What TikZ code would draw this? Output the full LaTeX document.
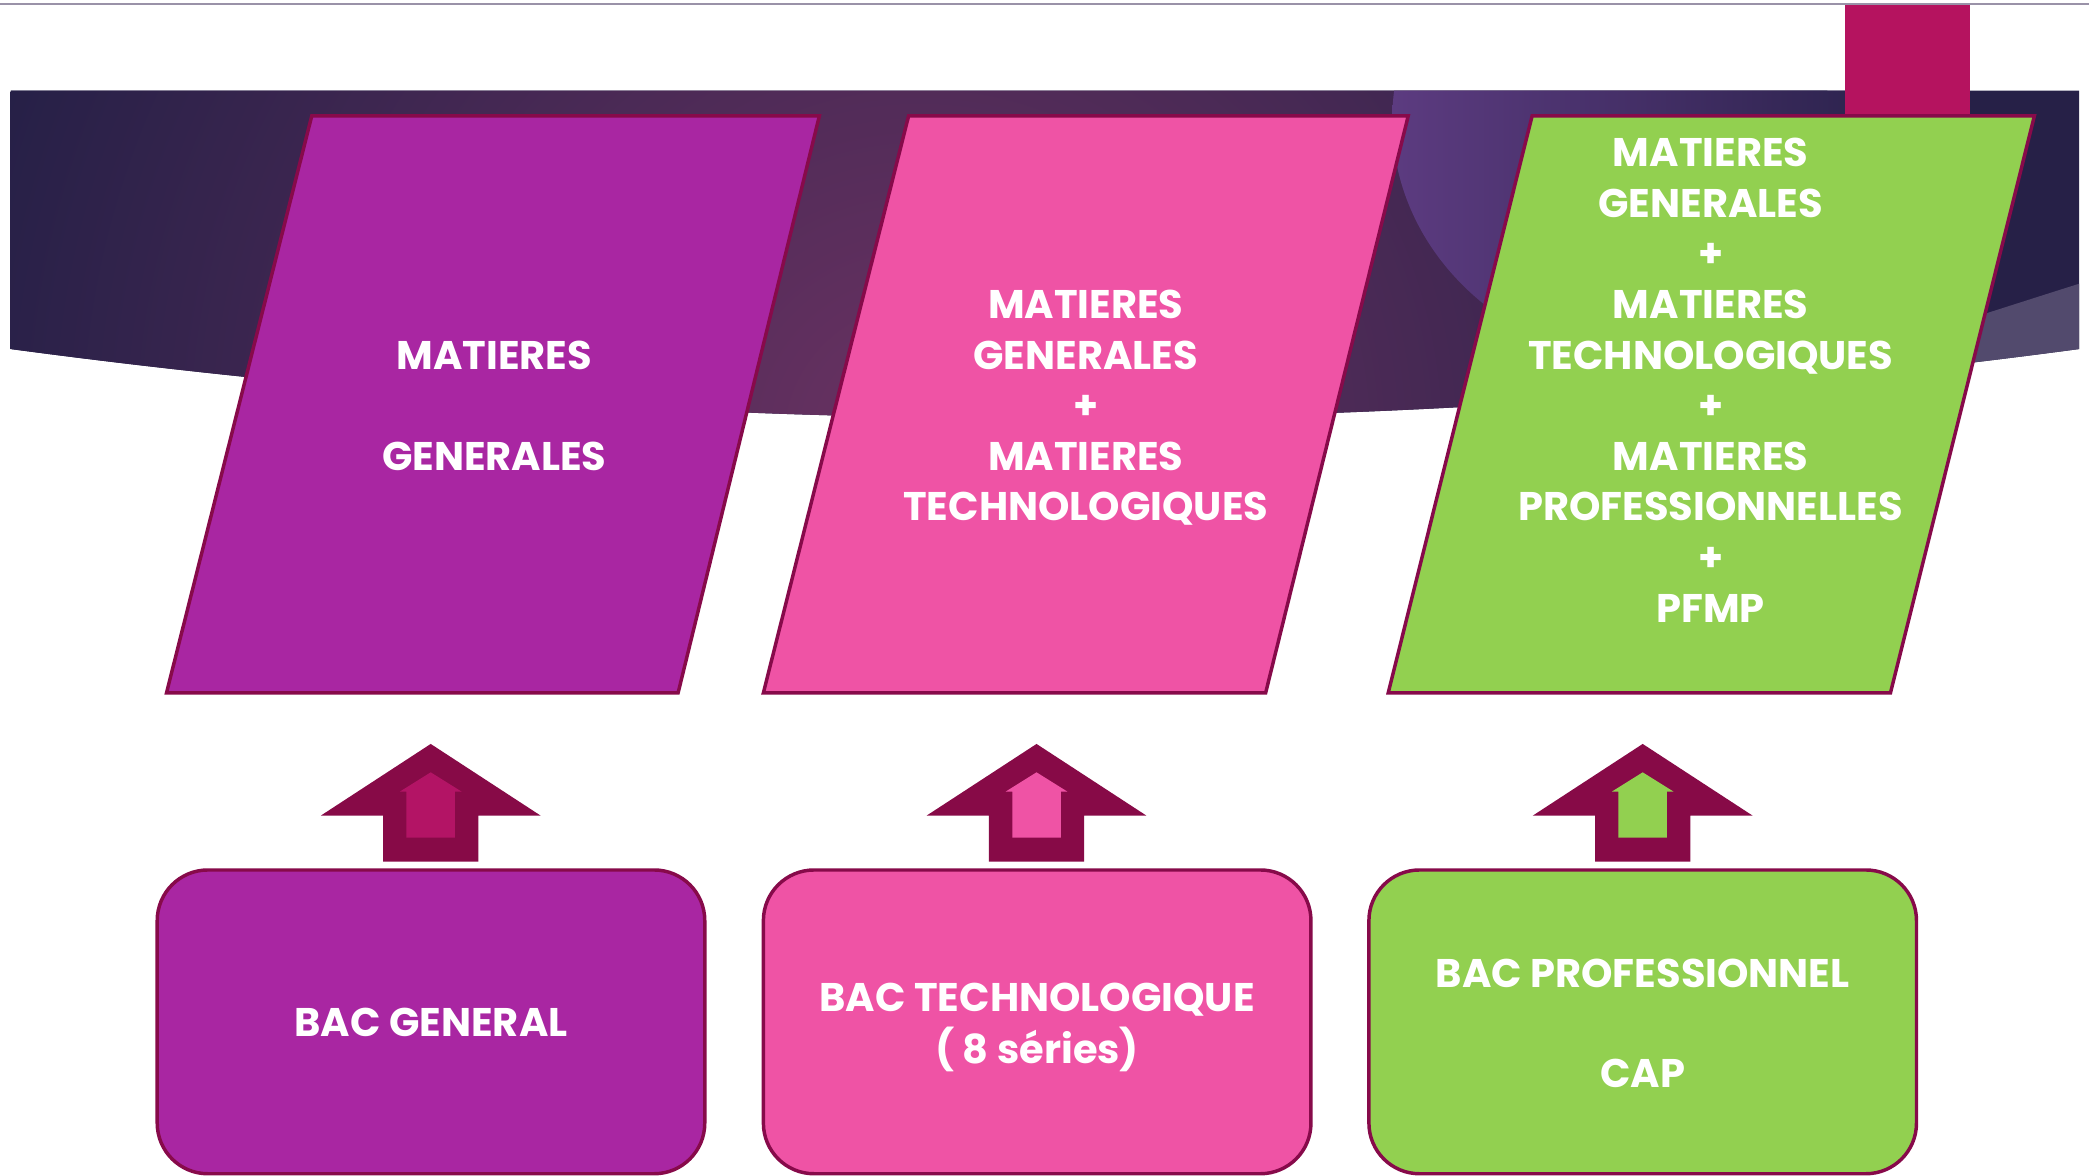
\documentclass[tikz,border=0pt]{standalone}
\usepackage{fontspec}
\setmainfont{Poppins}
\definecolor{purp}{HTML}{A926A2}
\definecolor{pinkc}{HTML}{EF53A5}
\definecolor{greenc}{HTML}{92D050}
\definecolor{bord}{HTML}{870A4A}
\definecolor{arrowout}{HTML}{870A47}
\definecolor{arrowin}{HTML}{B31465}
\definecolor{tabc}{HTML}{B5135F}
\definecolor{bandark}{HTML}{262047}
\definecolor{banmid}{HTML}{6A3262}
\definecolor{circL}{HTML}{5C3B80}
\definecolor{lowR}{HTML}{524A6D}
\definecolor{topline}{HTML}{9A92A8}
\begin{document}
\begin{tikzpicture}[x=1pt,y=-1pt,
  pbox/.style={draw=bord,line width=2.6pt,line join=miter},
  bbox/.style={draw=bord,line width=2.6pt,rounded corners=38pt,minimum width=411pt,minimum height=228pt,inner sep=0pt},
  txt/.style={text=white,font=\fontsize{30}{38}\selectfont\bfseries,anchor=base,inner sep=0pt}]
\useasboundingbox (0,0) rectangle (1568,882.7);
\fill[white] (0,0) rectangle (1568,882.7);
\draw[topline,line width=1pt] (0,3) -- (1568,3);
% banner
\begin{scope}
\clip (8,68) -- (1560.5,68) -- (1560.5,262) .. controls (1042.7,331.3) and (525.3,331.3) .. (8,262) -- cycle;
\fill[bandark] (0,60) rectangle (1570,340);
\shade[inner color=banmid,outer color=bandark] (690,330) circle (730);
\shade[left color=circL,right color=bandark] (1250,90) ellipse (205 and 185);
\fill[lowR] (1350,279) .. controls (1440,252) and (1500,232) .. (1570,210) -- (1570,340) -- (1350,340) -- cycle;
\end{scope}
% tab
\fill[tabc] (1385,3.5) rectangle (1479,90);
% parallelograms
\draw[pbox,fill=purp] (234,87) -- (615,87) -- (509,520) -- (125,520) -- cycle;
\draw[pbox,fill=pinkc] (682,87) -- (1057,87) -- (950,520) -- (573,520) -- cycle;
\draw[pbox,fill=greenc] (1150,87) -- (1527,87) -- (1419,520) -- (1042,520) -- cycle;
% parallelogram texts
\node[txt] (p1a) at (371,277) {MATIERES};
\node[txt] (p1b) at (371,353) {GENERALES};
\foreach \t [count=\i] in {MATIERES,GENERALES,+,MATIERES,TECHNOLOGIQUES}
  \node[txt] (p2l\i) at (815,{239+38*(\i-1)}) {\t};
\foreach \t [count=\i] in {MATIERES,GENERALES,+,MATIERES,TECHNOLOGIQUES,+,MATIERES,PROFESSIONNELLES,+,PFMP}
  \node[txt] (p3l\i) at (1284,{125+38*(\i-1)}) {\t};
% bottom boxes
\node[bbox,fill=purp] (b1) at (323.5,767) {};
\node[bbox,fill=pinkc] (b2) at (778.5,767) {};
\node[bbox,fill=greenc] (b3) at (1233,767) {};
\node[txt] (b1t) at (323.5,778) {BAC GENERAL};
\node[txt] (b2a) at (778.5,759) {BAC TECHNOLOGIQUE};
\node[txt] (b2b) at (778.5,798) {( 8 séries)};
\node[txt] (b3a) at (1233,741) {BAC PROFESSIONNEL};
\node[txt] (b3b) at (1233,816) {CAP};
% arrows
\foreach \cx/\ic in {323.3/arrowin,778/pinkc,1233/greenc}{
  \fill[arrowout] (\cx,558.4) -- ({\cx+82.5},612.2) -- ({\cx+35.7},612.2) -- ({\cx+35.7},646.8)
     -- ({\cx-35.7},646.8) -- ({\cx-35.7},612.2) -- ({\cx-82.5},612.2) -- cycle;
  \fill[\ic] (\cx,579.7) -- ({\cx+23.2},594.2) -- ({\cx+18.2},594.2) -- ({\cx+18.2},628.7)
     -- ({\cx-18.2},628.7) -- ({\cx-18.2},594.2) -- ({\cx-23.2},594.2) -- cycle;
}
\end{tikzpicture}
\end{document}
